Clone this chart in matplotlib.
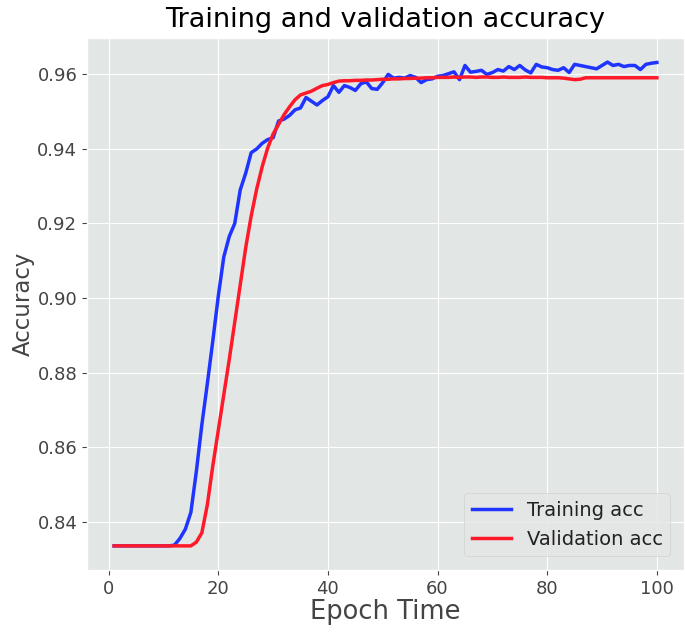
import matplotlib
matplotlib.use('Agg')
import matplotlib.pyplot as plt
import numpy as np

plt.style.use('ggplot')

epochs = list(range(1, 101))

train_acc = [
    0.8335, 0.8335, 0.8335, 0.8335, 0.8335, 0.8335, 0.8335, 0.8335, 0.8335, 0.8335,
    0.8335, 0.8337, 0.8355, 0.8380, 0.8425, 0.8535, 0.8660, 0.8770, 0.8885, 0.9005,
    0.9110, 0.9165, 0.9200, 0.9290, 0.9335, 0.9390, 0.9400, 0.9415, 0.9425, 0.9430,
    0.9475, 0.9480, 0.9490, 0.9505, 0.9510, 0.9538, 0.9528, 0.9518, 0.9530, 0.9540,
    0.9570, 0.9552, 0.9570, 0.9565, 0.9557, 0.9575, 0.9580, 0.9562, 0.9560, 0.9578,
    0.9600, 0.9590, 0.9592, 0.9590, 0.9597, 0.9592, 0.9578, 0.9586, 0.9588, 0.9595,
    0.9597, 0.9602, 0.9607, 0.9586, 0.9624, 0.9606, 0.9608, 0.9611, 0.9600, 0.9605,
    0.9613, 0.9609, 0.9621, 0.9613, 0.9624, 0.9612, 0.9604, 0.9627, 0.9620, 0.9618,
    0.9613, 0.9611, 0.9618, 0.9605, 0.9627, 0.9624, 0.9621, 0.9618, 0.9615, 0.9624,
    0.9633, 0.9624, 0.9627, 0.9621, 0.9624, 0.9624, 0.9613, 0.9627, 0.9630, 0.9632,
]

val_acc = [
    0.8335, 0.8335, 0.8335, 0.8335, 0.8335, 0.8335, 0.8335, 0.8335, 0.8335, 0.8335,
    0.8335, 0.8335, 0.8335, 0.8335, 0.8335, 0.8345, 0.8370, 0.8445, 0.8550, 0.8645,
    0.8740, 0.8835, 0.8935, 0.9035, 0.9135, 0.9220, 0.9292, 0.9352, 0.9402, 0.9440,
    0.9466, 0.9492, 0.9513, 0.9532, 0.9545, 0.9550, 0.9555, 0.9563, 0.9570, 0.9573,
    0.9578, 0.9582, 0.9583, 0.9583, 0.9584, 0.9584, 0.9585, 0.9585, 0.9586, 0.9587,
    0.9587, 0.9588, 0.9588, 0.9589, 0.9589, 0.9590, 0.9590, 0.9591, 0.9591, 0.9592,
    0.9592, 0.9592, 0.9593, 0.9592, 0.9593, 0.9593, 0.9592, 0.9593, 0.9593, 0.9592,
    0.9592, 0.9593, 0.9592, 0.9592, 0.9592, 0.9593, 0.9592, 0.9592, 0.9592, 0.9591,
    0.9591, 0.9591, 0.9590, 0.9588, 0.9586, 0.9587, 0.9591, 0.9591, 0.9591, 0.9591,
    0.9591, 0.9591, 0.9591, 0.9591, 0.9591, 0.9591, 0.9591, 0.9591, 0.9591, 0.9591,
]

fig = plt.figure(figsize=(6.85, 6.32), dpi=100)
fig.patch.set_facecolor('white')
ax = fig.add_axes([0.127, 0.098, 0.8715, 0.842])
ax.set_facecolor('#E2E6E5')

ax.plot(epochs, train_acc, color='#1f35ff', linewidth=2.5, label='Training acc')
ax.plot(epochs, val_acc, color='#ff1a2a', linewidth=2.5, label='Validation acc')

ax.set_title('Training and validation accuracy', fontsize=19.5, color='black', pad=8)
ax.set_xlabel('Epoch Time', fontsize=18.5, color='#444444', labelpad=1)
ax.set_ylabel('Accuracy', fontsize=16.5, color='#444444', labelpad=2)
ax.tick_params(axis='both', labelsize=13, colors='#444444')
ax.set_yticks([0.84, 0.86, 0.88, 0.90, 0.92, 0.94, 0.96])
ax.set_yticklabels(['0.84', '0.86', '0.88', '0.90', '0.92', '0.94', '0.96'])
ax.set_xticks([0, 20, 40, 60, 80, 100])

leg = ax.legend(loc='lower right', fontsize=14, borderaxespad=0.7, handlelength=2.0)
for t in leg.get_texts():
    t.set_color('#222222')

plt.savefig('out.png', dpi=100, facecolor='white')
